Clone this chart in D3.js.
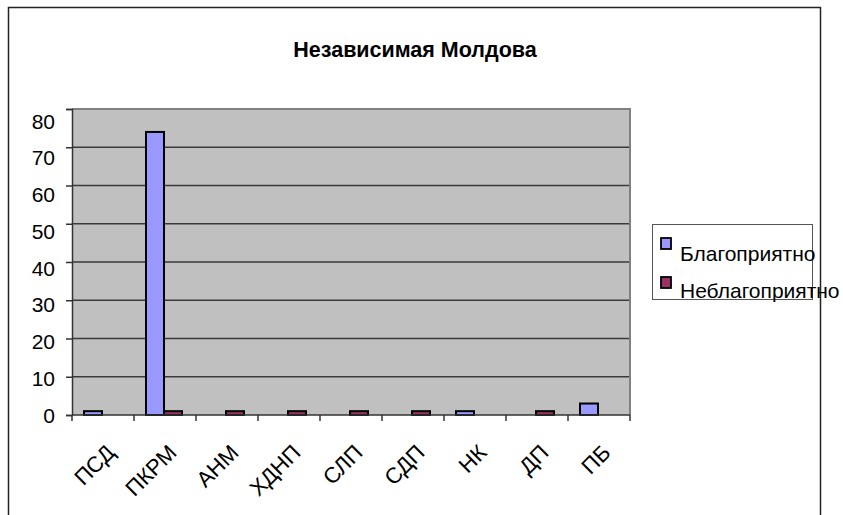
<!DOCTYPE html>
<html>
<head>
<meta charset="utf-8">
<script src="https://cdn.jsdelivr.net/npm/d3@7"></script>
<style>
body{margin:0;background:#fff;}
svg text{font-family:"Liberation Sans",Arial,sans-serif;}
</style>
</head>
<body>
<div id="chart"></div>
<script>
var svgW=843,svgH=515;
var categories=["ПСД","ПКРМ","АНМ","ХДНП","СЛП","СДП","НК","ДП","ПБ"];
var seriesNames=["Благоприятно","Неблагоприятно"];
var favorable=[1,74,0,0,0,0,1,0,3];
var unfavorable=[0,1,1,1,1,1,0,1,0];
var yTicks=[0,10,20,30,40,50,60,70,80];
var colors=["#9999ff","#993366"];
var titleText="Независимая Молдова";

var plotL=72,plotR=630,plotT=109,plotB=415;

var svg=d3.select("#chart").append("svg")
    .attr("width",svgW)
    .attr("height",svgH);

// outer chart frame
svg.append("rect")
    .attr("x",8.5).attr("y",7.5)
    .attr("width",812).attr("height",530)
    .attr("fill","#fff")
    .attr("stroke","#222")
    .attr("stroke-width",1.5);

svg.append("text")
    .attr("x",415).attr("y",57)
    .attr("text-anchor","middle")
    .style("font-size","21.5px")
    .style("font-weight","bold")
    .text(titleText);

var x=d3.scaleBand().domain(categories).range([plotL,plotR]).paddingInner(0).paddingOuter(0);
var x1=d3.scaleBand().domain(seriesNames).range([12,48]).padding(0);
var y=d3.scaleLinear().domain([0,80]).range([plotB,plotT]);
// tick labels sit on a slightly tighter scale than the gridlines (as in the source)
var yLab=d3.scaleLinear().domain([0,80]).range([plotB,121]);

// plot area
svg.append("rect")
    .attr("x",plotL).attr("y",plotT)
    .attr("width",plotR-plotL).attr("height",plotB-plotT)
    .attr("fill","#c0c0c0");

svg.append("g").selectAll("line")
    .data(yTicks.filter(function(d){return d>0&&d<80;}))
    .enter().append("line")
    .attr("x1",plotL).attr("x2",plotR)
    .attr("y1",function(d){return y(d);})
    .attr("y2",function(d){return y(d);})
    .attr("stroke","#3a3a3a")
    .attr("stroke-width",1.3);

// gray border top/right
svg.append("path")
    .attr("d","M"+plotL+","+plotT+"H"+plotR+"V"+plotB)
    .attr("fill","none")
    .attr("stroke","#808080")
    .attr("stroke-width",2);

// bars
var rows=categories.map(function(c,i){return {cat:c,vals:[favorable[i],unfavorable[i]]};});
var groups=svg.append("g").selectAll("g")
    .data(rows).enter().append("g")
    .attr("transform",function(d){return "translate("+x(d.cat)+",0)";});

groups.selectAll("rect")
    .data(function(d){return d.vals.map(function(v,j){return {name:seriesNames[j],v:v,j:j};}).filter(function(e){return e.v>0;});})
    .enter().append("rect")
    .attr("x",function(d){return x1(d.name);})
    .attr("width",x1.bandwidth())
    .attr("y",function(d){return y(d.v);})
    .attr("height",function(d){return y(0)-y(d.v);})
    .attr("fill",function(d){return colors[d.j];})
    .attr("stroke","#000")
    .attr("stroke-width",2);

// y axis
var yAxis=d3.axisLeft(y).tickValues(yTicks).tickSize(6).tickFormat("");
var yg=svg.append("g").attr("transform","translate("+plotL+",0)").call(yAxis);
yg.select(".domain").attr("stroke","#333").attr("stroke-width",1.5);
yg.selectAll(".tick line").attr("stroke","#333").attr("stroke-width",1.5);
svg.append("g").selectAll("text")
    .data(yTicks).enter().append("text")
    .attr("x",55)
    .attr("y",function(d){return yLab(d);})
    .attr("dy","0.36em")
    .attr("text-anchor","end")
    .style("font-size","21px")
    .text(function(d){return d;});

// x axis: ticks at category boundaries
var xg=svg.append("g");
xg.append("line")
    .attr("x1",plotL).attr("x2",plotR)
    .attr("y1",plotB).attr("y2",plotB)
    .attr("stroke","#333").attr("stroke-width",1.5);
var bounds=categories.map(function(c){return x(c);}).concat([plotR]);
xg.selectAll(".xt").data(bounds).enter().append("line")
    .attr("class","xt")
    .attr("x1",function(d){return d;}).attr("x2",function(d){return d;})
    .attr("y1",plotB).attr("y2",plotB+6)
    .attr("stroke","#333").attr("stroke-width",1.5);
xg.selectAll(".xl").data(categories).enter().append("text")
    .attr("class","xl")
    .attr("text-anchor","end")
    .style("font-size","22px")
    .attr("transform",function(d){
        var cx=x(d)+x.bandwidth()/2+13;
        return "translate("+cx+",454) rotate(-45)";
    })
    .text(function(d){return d;});

// legend
var lg=svg.append("g");
lg.append("rect")
    .attr("x",652.5).attr("y",224.5)
    .attr("width",160).attr("height",75)
    .attr("fill","#fff")
    .attr("stroke","#555")
    .attr("stroke-width",1);
lg.selectAll(".sw").data(seriesNames).enter().append("rect")
    .attr("class","sw")
    .attr("x",661).attr("y",function(d,i){return 238+i*39;})
    .attr("width",10).attr("height",11)
    .attr("fill",function(d,i){return colors[i];})
    .attr("stroke","#000").attr("stroke-width",1.8);
lg.selectAll(".lt").data(seriesNames).enter().append("text")
    .attr("class","lt")
    .attr("x",680).attr("y",function(d,i){return 261+i*37;})
    .style("font-size","21px")
    .text(function(d){return d;});
</script>
</body>
</html>
